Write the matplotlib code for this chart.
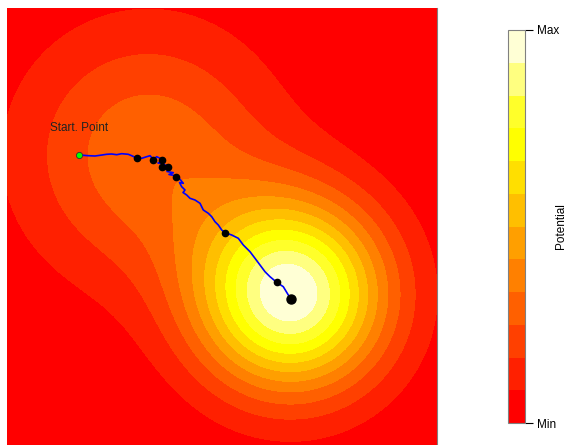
import numpy as np
import matplotlib
matplotlib.use("Agg")
import matplotlib.pyplot as plt

plt.rcParams['font.family'] = ['Liberation Sans', 'DejaVu Sans']

# potential surface: two bumps (centre x, centre y, height, spread)
peak_x, peak_y, peak_h, peak_s = 284.0, 150.0, 1.00, 66.0
lobe_x, lobe_y, lobe_h, lobe_s = 141.0, 290.0, 0.32, 90.0

# heat palette, 12 bands from min to max
band_colors = ['#FF0000', '#FF2000', '#FF4000', '#FF6000', '#FF8000', '#FF9F00',
               '#FFBF00', '#FFDF00', '#FFFF00', '#FFFF2A', '#FFFF80', '#FFFFD5']

# walker path
path_x = [72.3, 81.3, 88.0, 93.0, 99.7, 104.7, 109.7, 114.7, 121.3, 124.7,
          129.7, 134.7, 139.7, 143.0, 146.3, 149.7, 153.0, 155.3, 151.0, 157.0,
          153.5, 158.0, 160.7, 156.5, 163.0, 160.0, 166.3, 162.0, 169.7, 167.0,
          173.0, 176.3, 172.5, 174.7, 178.0, 176.0, 179.7, 183.0, 188.0, 193.0,
          196.3, 201.3, 204.7, 208.0, 211.3, 214.7, 218.0, 224.7, 231.3, 236.3,
          243.0, 248.0, 253.0, 258.0, 263.0, 269.7, 276.3, 281.3, 283.7]
path_y = [290.0, 289.3, 289.0, 289.7, 290.7, 291.0, 290.3, 291.3, 290.7, 289.3,
          287.0, 286.7, 288.3, 289.3, 285.7, 288.3, 286.7, 284.3, 282.0, 281.0,
          279.0, 280.0, 279.0, 276.0, 275.7, 273.5, 272.3, 270.5, 269.0, 267.0,
          265.7, 261.7, 262.5, 258.3, 255.0, 252.5, 250.0, 246.7, 245.0, 241.7,
          235.0, 231.7, 228.3, 223.3, 220.0, 215.0, 212.3, 210.0, 206.7, 200.0,
          193.3, 186.7, 180.0, 173.3, 168.3, 162.7, 158.3, 150.0, 146.7]

# recorded stops along the path
stop_x = [129.7, 146.3, 155.3, 155.3, 160.7, 169.0, 218.0, 270.0]
stop_y = [287.0, 285.3, 285.0, 278.3, 278.5, 268.5, 212.3, 162.7]
end_x, end_y = 284.0, 146.5

x_max, y_max = 430.0, 437.0

gx = np.linspace(0, x_max, 300)
gy = np.linspace(0, y_max, 300)
X, Y = np.meshgrid(gx, gy)
Z = (peak_h * np.exp(-((X - peak_x) ** 2 + (Y - peak_y) ** 2) / (2 * peak_s ** 2))
     + lobe_h * np.exp(-((X - lobe_x) ** 2 + (Y - lobe_y) ** 2) / (2 * lobe_s ** 2)))
levels = np.linspace(Z.min(), Z.max(), len(band_colors) + 1)

fig = plt.figure(figsize=(5.66, 4.45), dpi=100)
ax = fig.add_axes([7 / 566, 0.0, 430 / 566, 437 / 445])
cax = fig.add_axes([508 / 566, 22 / 445, 17 / 566, 393 / 445])

cs = ax.contourf(X, Y, Z, levels=levels, colors=band_colors)
ax.plot(path_x, path_y, color='#0000FF', lw=1.2, zorder=3)
ax.plot(stop_x, stop_y, 'o', color='black', ms=4.5, zorder=4)
ax.plot([end_x], [end_y], 'o', color='black', ms=6.5, zorder=4)
ax.plot([path_x[0]], [path_y[0]], 'o', mfc='#00FF00', mec='#333333', mew=0.6, ms=4.5, zorder=5)
ax.text(path_x[0], path_y[0] + 21, 'Start. Point', ha='center', va='bottom', fontsize=8.5, color='#222222')

ax.set_xlim(0, x_max)
ax.set_ylim(0, y_max)
ax.set_xticks([])
ax.set_yticks([])
for side in ['top', 'left', 'bottom']:
    ax.spines[side].set_visible(False)
ax.spines['right'].set_color('#808080')
ax.spines['right'].set_linewidth(0.8)

cb = fig.colorbar(cs, cax=cax)
cb.set_ticks([levels[0], levels[-1]])
cb.set_ticklabels(['Min', 'Max'])
cb.outline.set_edgecolor('#808080')
cb.outline.set_linewidth(0.8)
cax.tick_params(length=5.5, width=0.8, labelsize=8.5, pad=3.5)
cax.text(3.1, 0.5, 'Potential', transform=cax.transAxes, rotation=90,
         ha='center', va='center', fontsize=8.5)

fig.savefig('out.png', dpi=100)
